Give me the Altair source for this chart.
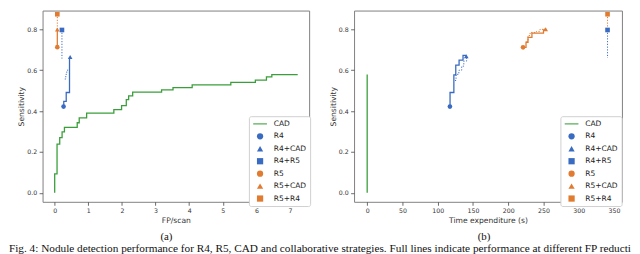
import altair as alt
import pandas as pd

# ---------------- legend / series definitions ----------------
series_names = ["CAD", "R4", "R4+CAD", "R4+R5", "R5", "R5+CAD", "R5+R4"]
series_colors = ["#3a9e3a", "#3a6bc2", "#3a6bc2", "#3a6bc2", "#e07b30", "#e07b30", "#e07b30"]
cad_symbol = "M-2.2,-0.17H2.2V0.17H-2.2Z"
series_shapes = [cad_symbol, "circle", "triangle-up", "square", "circle", "triangle-up", "square"]

line_groups = ["CAD", "R4", "R5"]
line_colors = ["#3a9e3a", "#3a6bc2", "#e07b30"]

# ---------------- (a) FP/scan vs sensitivity ----------------
cad_fp = [0, 0, 0.07, 0.15, 0.22, 0.29, 0.67, 0.73, 0.95, 1.76, 1.99, 2.13, 2.2, 2.32,
          3.18, 3.52, 4.09, 5.24, 5.97, 6.3, 6.46, 7.23]
cad_sens = [0, 0.093, 0.238, 0.27, 0.298, 0.32, 0.343, 0.367, 0.39, 0.407, 0.427, 0.456,
            0.475, 0.493, 0.504, 0.515, 0.528, 0.541, 0.552, 0.568, 0.579, 0.579]

a_r4cad_x = [0.264, 0.27, 0.343, 0.441, 0.46]
a_r4cad_y = [0.422, 0.448, 0.491, 0.662, 0.665]
a_r4dot_x = [0.30, 0.33, 0.36, 0.39]
a_r4dot_y = [0.557, 0.58, 0.60, 0.61]
a_r4r5_x = [0.216, 0.216]
a_r4r5_y = [0.797, 0.657]
a_r5cad_x = [0.078, 0.078]
a_r5cad_y = [0.713, 0.799]
a_r5r4_x = [0.078, 0.078]
a_r5r4_y = [0.874, 0.799]

a_marker_x = [0.264, 0.46, 0.216, 0.078, 0.078, 0.078]
a_marker_y = [0.422, 0.665, 0.797, 0.713, 0.799, 0.874]

# ---------------- (b) time vs sensitivity ----------------
cad_time = [0, 0, 0, 0, 0, 0, 0, 0, 0, 0, 0, 0, 0, 0, 0, 0, 0, 0, 0, 0, 0, 0]

b_r4cad_x = [117.5, 117.5, 122.9, 125.6, 130.3, 135.9, 140.5]
b_r4cad_y = [0.422, 0.491, 0.577, 0.625, 0.649, 0.673, 0.673]
b_r4dot_x = [124.5, 126, 130, 134, 137, 141]
b_r4dot_y = [0.55, 0.58, 0.60, 0.62, 0.645, 0.66]
b_r5cad_x = [221.0, 225.2, 228.0, 233.6, 250.0, 253.1]
b_r5cad_y = [0.712, 0.737, 0.761, 0.782, 0.798, 0.798]
b_r5dot_x = [226, 228, 231, 240, 245, 252]
b_r5dot_y = [0.74, 0.77, 0.785, 0.79, 0.80, 0.805]
b_r4r5_x = [340.8, 340.8]
b_r4r5_y = [0.797, 0.66]
b_r5r4_x = [340.8, 340.8]
b_r5r4_y = [0.874, 0.797]

b_marker_x = [117.3, 140.5, 340.8, 221.0, 253.1, 340.8]
b_marker_y = [0.422, 0.668, 0.797, 0.712, 0.800, 0.874]

marker_series = ["R4", "R4+CAD", "R4+R5", "R5", "R5+CAD", "R5+R4"]

caption = ("Fig. 4: Nodule detection performance for R4, R5, CAD and collaborative strategies. "
           "Full lines indicate performance at different FP reducti")


def lines_frame(paths):
    rows = []
    for pid, (grp, style, xs, ys) in enumerate(paths):
        for i, (x, y) in enumerate(zip(xs, ys)):
            rows.append({"path": pid, "grp": grp, "style": style, "i": i, "x": x, "y": y})
    return pd.DataFrame(rows)


a_lines = lines_frame([
    ("CAD", "solid", cad_fp, cad_sens),
    ("R4", "solid", a_r4cad_x, a_r4cad_y),
    ("R4", "dotted", a_r4dot_x, a_r4dot_y),
    ("R4", "dotted", a_r4r5_x, a_r4r5_y),
    ("R5", "solid", a_r5cad_x, a_r5cad_y),
    ("R5", "dotted", a_r5r4_x, a_r5r4_y),
])
b_lines = lines_frame([
    ("CAD", "solid", cad_time, cad_sens),
    ("R4", "solid", b_r4cad_x, b_r4cad_y),
    ("R4", "dotted", b_r4dot_x, b_r4dot_y),
    ("R5", "solid", b_r5cad_x, b_r5cad_y),
    ("R5", "dotted", b_r5dot_x, b_r5dot_y),
    ("R4", "dotted", b_r4r5_x, b_r4r5_y),
    ("R5", "dotted", b_r5r4_x, b_r5r4_y),
])
a_pts = pd.DataFrame({"series": marker_series, "x": a_marker_x, "y": a_marker_y})
b_pts = pd.DataFrame({"series": marker_series, "x": b_marker_x, "y": b_marker_y})


def make_legend():
    return alt.Legend(
        title=None, orient="none", legendX=209, legendY=107,
        symbolSize=40, symbolOffset=3.5, symbolStrokeWidth=0,
        labelOffset=10, padding=4, rowPadding=3.6,
        labelFont="DejaVu Sans", labelFontSize=7.6, labelColor="#222",
        strokeColor="#cfcfcf", fillColor="#ffffff", cornerRadius=2,
    )


def panel(lines_df, pts_df, xdom, xticks, xtitle, ptitle, width, pdx):
    x = alt.X("x:Q", scale=alt.Scale(domain=xdom, nice=False, zero=False),
              axis=alt.Axis(values=xticks, title=xtitle, format="d"))
    y = alt.Y("y:Q", scale=alt.Scale(domain=[-0.0437, 0.892], nice=False, zero=False),
              axis=alt.Axis(values=[0, 0.2, 0.4, 0.6, 0.8], format=".1f", title="Sensitivity"))
    stroke = alt.Stroke("grp:N", scale=alt.Scale(domain=line_groups, range=line_colors),
                        legend=None)
    solid = alt.Chart(lines_df).transform_filter(alt.datum.style == "solid").mark_line(
        interpolate="step-after", strokeWidth=1.3).encode(
        x=x, y=y, stroke=stroke, detail="path:N", order="i:Q")
    dotted = alt.Chart(lines_df).transform_filter(alt.datum.style == "dotted").mark_line(
        interpolate="step-after", strokeWidth=1.0, strokeDash=[1.2, 1.6]).encode(
        x=x, y=y, stroke=stroke, detail="path:N", order="i:Q")
    pts = alt.Chart(pts_df).mark_point(filled=True, size=22, opacity=1).encode(
        x=x, y=y,
        color=alt.Color("series:N", scale=alt.Scale(domain=series_names, range=series_colors),
                        legend=make_legend()),
        shape=alt.Shape("series:N", scale=alt.Scale(domain=series_names, range=series_shapes),
                        legend=make_legend()))
    return alt.layer(solid, dotted, pts).properties(
        width=width, height=193.7,
        title=alt.TitleParams(ptitle, orient="bottom", font="Liberation Serif", fontSize=11,
                              fontWeight="normal", color="#111", offset=7, dx=pdx))


left = panel(a_lines, a_pts, [-0.361, 7.57], [0, 1, 2, 3, 4, 5, 6, 7], "FP/scan", "(a)", 270, -9.5)
right = panel(b_lines, b_pts, [-18.6, 361.2], [0, 50, 100, 150, 200, 250, 300, 350],
              "Time expenditure (s)", "(b)", 271.3, -4)

chart = alt.hconcat(left, right, spacing=17.5).resolve_scale(
    color="independent", shape="independent", stroke="independent"
).resolve_legend(
    color="independent", shape="independent", stroke="independent"
).properties(
    title=alt.TitleParams(caption, orient="bottom", anchor="start", font="Liberation Serif",
                          fontSize=11.4, fontWeight="normal", color="#111", dx=-8.5, offset=1),
    padding={"left": 0, "top": 0, "right": 0, "bottom": 0},
).configure_view(stroke="#7f7f7f", strokeWidth=1).configure_axis(
    grid=False, domain=False, tickColor="#444", tickSize=3.5, tickWidth=0.8,
    labelFont="DejaVu Sans", labelFontSize=6.3, labelColor="#333", labelPadding=2.5,
    titleFont="DejaVu Sans", titleFontSize=7.7, titleFontWeight="normal", titleColor="#333",
    titlePadding=2.5,
).configure_axisY(labelPadding=2.5, titlePadding=1)

chart.save("out.html", embed_options={"renderer": "svg", "actions": False})
